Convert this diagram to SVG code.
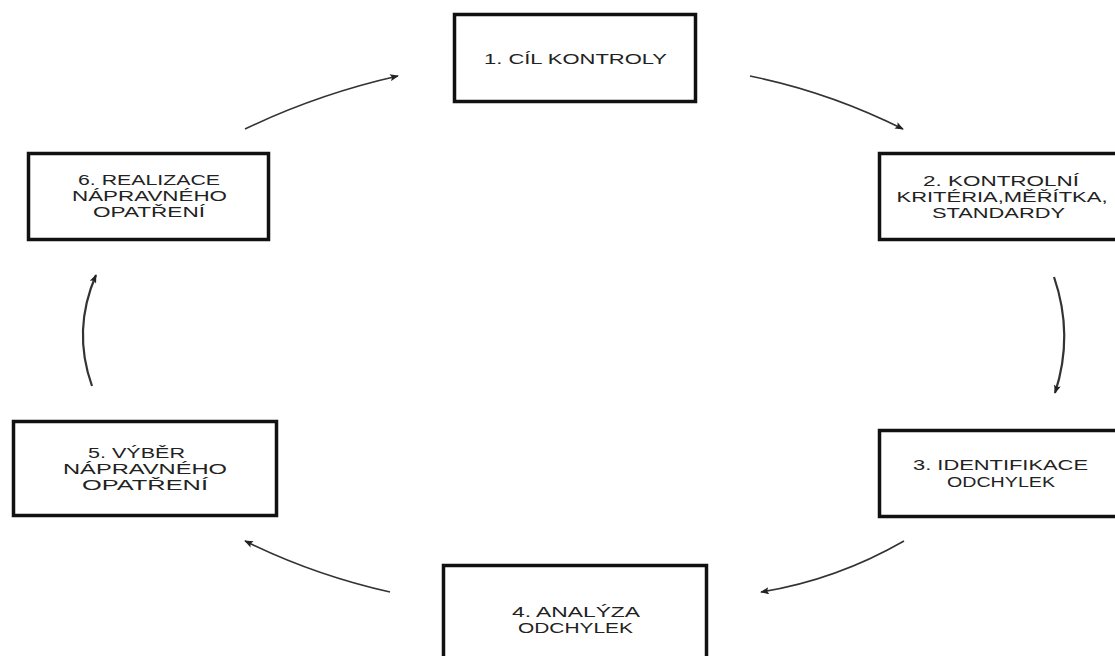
<svg xmlns="http://www.w3.org/2000/svg" width="1115" height="656" viewBox="0 0 1115 656">
<style>
.box{fill:#fff;stroke:#111;stroke-width:3.5}
.t{font-family:"Liberation Sans",Arial,sans-serif;font-size:14px;fill:#222;text-anchor:middle}
.b{font-size:15px}
.c{fill:none;stroke:#333;stroke-width:1.6;marker-end:url(#ah)}
.cv{stroke-width:2.2}
</style>
<defs>
<marker id="ah" viewBox="0 0 10 8" refX="9" refY="4" markerWidth="9" markerHeight="7" markerUnits="userSpaceOnUse" orient="auto">
<path d="M0,0 L10,4 L0,8 L2,4 z" fill="#222"/>
</marker>
</defs>
<rect width="1115" height="656" fill="#fff"/>
<g id="connectors">
<path class="c" d="M245,129 Q318,94 398,76"/>
<path class="c" d="M750,76 Q829,92 903,129"/>
<path class="c cv" d="M1054,277 Q1074,335 1055,393"/>
<path class="c" d="M904,541 Q836,580 761,592"/>
<path class="c" d="M390,592 Q314,575 245,541"/>
<path class="c cv" d="M92,386 Q72,330 96,275"/>
</g>
<g id="n1">
<rect class="box" x="454.5" y="14.5" width="241" height="87"/>
<text class="t b" x="575.5" y="64" textLength="183" lengthAdjust="spacingAndGlyphs">1. CÍL KONTROLY</text>
</g>
<g id="n2">
<rect class="box" x="879.5" y="153.5" width="250" height="86"/>
<text class="t" x="1001" y="186" textLength="156" lengthAdjust="spacingAndGlyphs">2. KONTROLNÍ</text>
<text class="t" x="1002" y="202" textLength="211" lengthAdjust="spacingAndGlyphs">KRITÉRIA,MĚŘÍTKA,</text>
<text class="t" x="998.5" y="218" textLength="133" lengthAdjust="spacingAndGlyphs">STANDARDY</text>
</g>
<g id="n3">
<rect class="box" x="879.5" y="430.5" width="250" height="86"/>
<text class="t" x="1000.5" y="470" textLength="175" lengthAdjust="spacingAndGlyphs">3. IDENTIFIKACE</text>
<text class="t" x="1001" y="487" textLength="108" lengthAdjust="spacingAndGlyphs">ODCHYLEK</text>
</g>
<g id="n4">
<rect class="box" x="443.5" y="565.5" width="263" height="110"/>
<text class="t" x="576" y="617" textLength="128" lengthAdjust="spacingAndGlyphs">4. ANALÝZA</text>
<text class="t" x="575.5" y="633" textLength="115" lengthAdjust="spacingAndGlyphs">ODCHYLEK</text>
</g>
<g id="n5">
<rect class="box" x="13.5" y="421.5" width="263" height="94"/>
<text class="t" x="136.5" y="458" textLength="97" lengthAdjust="spacingAndGlyphs">5. VÝBĚR</text>
<text class="t" x="145" y="474" textLength="164" lengthAdjust="spacingAndGlyphs">NÁPRAVNÉHO</text>
<text class="t" x="145" y="490" textLength="126" lengthAdjust="spacingAndGlyphs">OPATŘENÍ</text>
</g>
<g id="n6">
<rect class="box" x="28.5" y="153.5" width="240" height="86"/>
<text class="t" x="149" y="185" textLength="142" lengthAdjust="spacingAndGlyphs">6. REALIZACE</text>
<text class="t" x="149.5" y="201" textLength="155" lengthAdjust="spacingAndGlyphs">NÁPRAVNÉHO</text>
<text class="t" x="149" y="217" textLength="112" lengthAdjust="spacingAndGlyphs">OPATŘENÍ</text>
</g>
</svg>
